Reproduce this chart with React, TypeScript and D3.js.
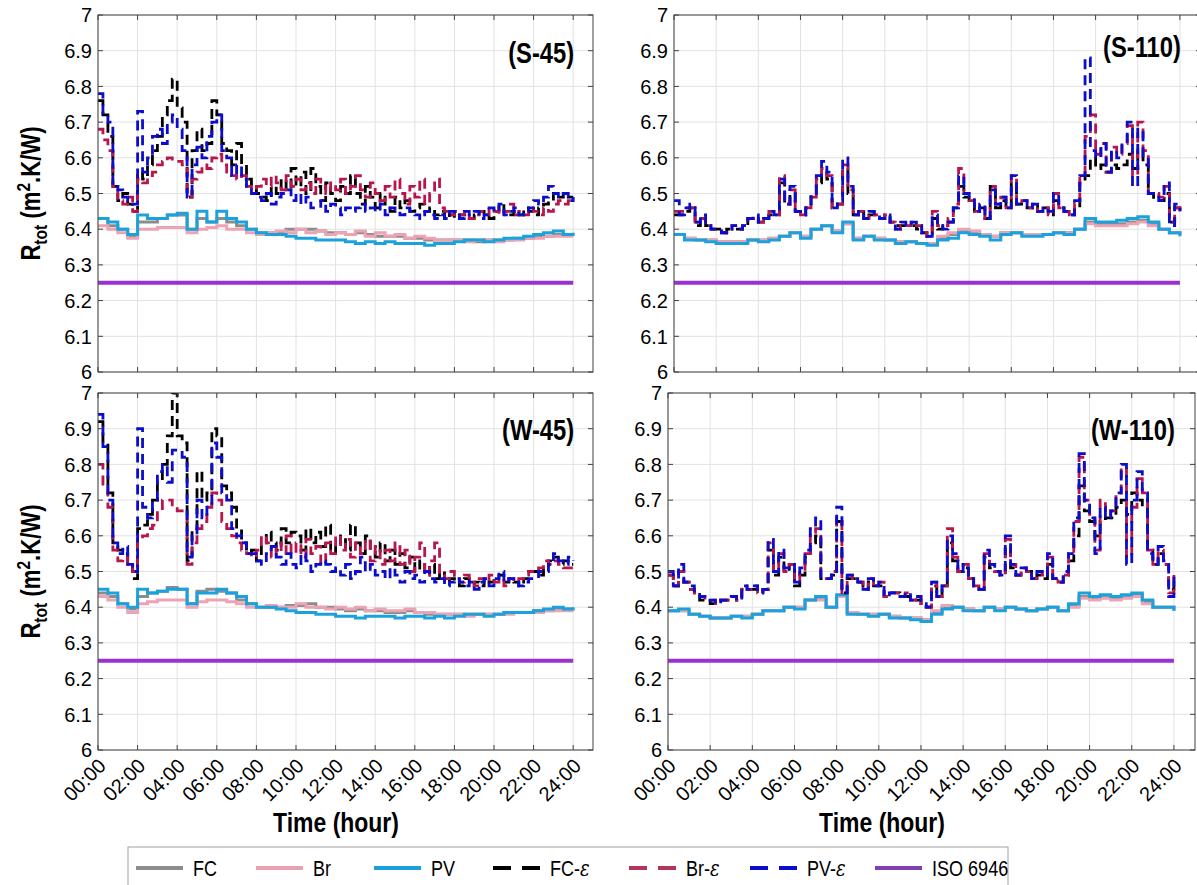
import React from 'react';
import * as d3 from 'd3';

// time axis
const hourTicks = [0, 2, 4, 6, 8, 10, 12, 14, 16, 18, 20, 22, 24];
const hourLabels = ['00:00', '02:00', '04:00', '06:00', '08:00', '10:00', '12:00', '14:00', '16:00', '18:00', '20:00', '22:00', '24:00'];
const rTicks = [6, 6.1, 6.2, 6.3, 6.4, 6.5, 6.6, 6.7, 6.8, 6.9, 7];
const isoLimit = 6.25;

const legendLabels = ['FC', 'Br', 'PV', 'FC-', 'Br-', 'PV-', 'ISO 6946'];

// ---- S-45 (half-hourly solid, quarter-hourly dashed)
const s45FC = [
  6.43, 6.41, 6.40, 6.38, 6.42, 6.42, 6.43, 6.44,
  6.44, 6.40, 6.43, 6.42, 6.43, 6.42, 6.41, 6.40,
  6.39, 6.39, 6.39, 6.40, 6.40, 6.40, 6.395, 6.39,
  6.39, 6.385, 6.39, 6.385, 6.38, 6.38, 6.38, 6.375,
  6.375, 6.37, 6.37, 6.37, 6.37, 6.37, 6.365, 6.37,
  6.37, 6.37, 6.375, 6.375, 6.38, 6.38, 6.385, 6.385,
  6.385];
const s45Br = [
  6.41, 6.40, 6.39, 6.375, 6.40, 6.40, 6.405, 6.405,
  6.405, 6.39, 6.40, 6.405, 6.41, 6.40, 6.40, 6.39,
  6.385, 6.39, 6.395, 6.39, 6.40, 6.39, 6.395, 6.385,
  6.39, 6.385, 6.395, 6.38, 6.39, 6.38, 6.385, 6.375,
  6.38, 6.375, 6.37, 6.37, 6.37, 6.365, 6.37, 6.37,
  6.365, 6.37, 6.37, 6.375, 6.375, 6.38, 6.38, 6.38,
  6.38];
const s45PV = [
  6.43, 6.42, 6.40, 6.385, 6.44, 6.43, 6.43, 6.44,
  6.445, 6.40, 6.45, 6.42, 6.45, 6.43, 6.42, 6.40,
  6.39, 6.385, 6.385, 6.38, 6.375, 6.375, 6.37, 6.37,
  6.37, 6.365, 6.36, 6.365, 6.36, 6.365, 6.36, 6.36,
  6.36, 6.355, 6.36, 6.36, 6.365, 6.37, 6.37, 6.365,
  6.37, 6.375, 6.375, 6.38, 6.385, 6.39, 6.395, 6.385,
  6.39];
const s45FCe = [
  6.76, 6.72, 6.66, 6.52, 6.48, 6.50, 6.47, 6.45,
  6.56, 6.54, 6.58, 6.62, 6.66, 6.72, 6.76, 6.82,
  6.74, 6.70, 6.49, 6.62, 6.68, 6.62, 6.64, 6.76,
  6.72, 6.64, 6.62, 6.58, 6.64, 6.58, 6.54, 6.52,
  6.50, 6.49, 6.48, 6.52, 6.50, 6.54, 6.51, 6.57,
  6.52, 6.56, 6.50, 6.57, 6.52, 6.48, 6.53, 6.50,
  6.48, 6.52, 6.50, 6.55, 6.50, 6.47, 6.52, 6.49,
  6.46, 6.50, 6.47, 6.45, 6.49, 6.46, 6.48, 6.45,
  6.46, 6.47, 6.45, 6.46, 6.44, 6.45, 6.43, 6.44,
  6.43, 6.44, 6.44, 6.43, 6.44, 6.45, 6.44, 6.43,
  6.45, 6.47, 6.45, 6.44, 6.45, 6.44, 6.46, 6.45,
  6.44, 6.46, 6.47, 6.48, 6.50, 6.49, 6.50, 6.49,
  6.49];
const s45Bre = [
  6.68, 6.65, 6.62, 6.52, 6.48, 6.47, 6.49, 6.45,
  6.54, 6.53, 6.55, 6.56, 6.58, 6.59, 6.60, 6.59,
  6.59, 6.58, 6.49, 6.54, 6.56, 6.58, 6.57, 6.60,
  6.61, 6.58, 6.56, 6.55, 6.54, 6.55, 6.52, 6.51,
  6.52, 6.54, 6.52, 6.55, 6.53, 6.51, 6.55, 6.52,
  6.54, 6.51, 6.53, 6.50, 6.54, 6.52, 6.50, 6.53,
  6.51, 6.54, 6.50, 6.52, 6.55, 6.51, 6.49, 6.53,
  6.50, 6.48, 6.52, 6.49, 6.54, 6.50, 6.47, 6.52,
  6.49, 6.54, 6.47, 6.50, 6.54, 6.46, 6.45, 6.44,
  6.45, 6.44, 6.45, 6.43, 6.44, 6.45, 6.44, 6.46,
  6.45, 6.44, 6.45, 6.47, 6.44, 6.45, 6.44, 6.46,
  6.45, 6.44, 6.46, 6.45, 6.47, 6.48, 6.47, 6.48,
  6.48];
const s45PVe = [
  6.78, 6.72, 6.70, 6.52, 6.51, 6.49, 6.48, 6.47,
  6.73, 6.56, 6.60, 6.66, 6.68, 6.64, 6.70, 6.72,
  6.68, 6.62, 6.49, 6.58, 6.63, 6.60, 6.66, 6.70,
  6.72, 6.62, 6.60, 6.55, 6.58, 6.54, 6.52, 6.50,
  6.49, 6.48, 6.50, 6.47, 6.49, 6.50, 6.51, 6.48,
  6.50, 6.47, 6.49, 6.46, 6.46, 6.48, 6.45, 6.47,
  6.46, 6.44, 6.46, 6.45, 6.46, 6.47, 6.45, 6.46,
  6.45, 6.47, 6.44, 6.46, 6.45, 6.44, 6.46, 6.45,
  6.44, 6.43, 6.45, 6.44, 6.43, 6.44, 6.43, 6.45,
  6.44, 6.43, 6.45, 6.44, 6.45, 6.43, 6.44, 6.46,
  6.45, 6.47, 6.44, 6.45, 6.46, 6.44, 6.45, 6.46,
  6.48, 6.47, 6.49, 6.52, 6.50, 6.49, 6.50, 6.48,
  6.49];

// ---- S-110
const s110FC = [
  6.385, 6.375, 6.37, 6.37, 6.365, 6.365, 6.365, 6.37,
  6.37, 6.375, 6.38, 6.39, 6.38, 6.40, 6.41, 6.395,
  6.415, 6.375, 6.38, 6.375, 6.37, 6.365, 6.365, 6.36,
  6.36, 6.375, 6.385, 6.395, 6.39, 6.385, 6.38, 6.39,
  6.39, 6.385, 6.385, 6.385, 6.39, 6.39, 6.40, 6.42,
  6.415, 6.415, 6.415, 6.42, 6.425, 6.415, 6.40, 6.39,
  6.385];
const s110Br = [
  6.385, 6.375, 6.37, 6.37, 6.365, 6.365, 6.365, 6.37,
  6.37, 6.375, 6.38, 6.39, 6.38, 6.40, 6.41, 6.395,
  6.415, 6.375, 6.38, 6.375, 6.37, 6.365, 6.365, 6.36,
  6.36, 6.38, 6.39, 6.40, 6.395, 6.385, 6.38, 6.39,
  6.39, 6.385, 6.385, 6.385, 6.39, 6.39, 6.40, 6.415,
  6.41, 6.41, 6.41, 6.415, 6.42, 6.41, 6.40, 6.39,
  6.385];
const s110PV = [
  6.385, 6.37, 6.37, 6.365, 6.36, 6.36, 6.36, 6.37,
  6.365, 6.37, 6.38, 6.39, 6.375, 6.40, 6.41, 6.39,
  6.42, 6.37, 6.38, 6.37, 6.37, 6.36, 6.365, 6.36,
  6.355, 6.37, 6.375, 6.39, 6.385, 6.38, 6.37, 6.385,
  6.39, 6.38, 6.38, 6.385, 6.39, 6.385, 6.40, 6.43,
  6.42, 6.42, 6.425, 6.43, 6.435, 6.42, 6.40, 6.39,
  6.38];
const s110FCe = [
  6.44, 6.44, 6.45, 6.46, 6.41, 6.43, 6.41, 6.40,
  6.40, 6.39, 6.40, 6.40, 6.40, 6.41, 6.43, 6.43,
  6.42, 6.43, 6.44, 6.44, 6.53, 6.47, 6.50, 6.45,
  6.44, 6.46, 6.49, 6.53, 6.56, 6.54, 6.46, 6.47,
  6.57, 6.50, 6.44, 6.45, 6.43, 6.44, 6.44, 6.43,
  6.44, 6.42, 6.41, 6.41, 6.41, 6.41, 6.40, 6.39,
  6.38, 6.43, 6.40, 6.41, 6.42, 6.46, 6.52, 6.49,
  6.48, 6.45, 6.46, 6.43, 6.52, 6.46, 6.48, 6.46,
  6.53, 6.47, 6.47, 6.46, 6.47, 6.45, 6.46, 6.44,
  6.48, 6.46, 6.45, 6.44, 6.46, 6.53, 6.55, 6.60,
  6.57, 6.58, 6.56, 6.58, 6.57, 6.58, 6.61, 6.57,
  6.62, 6.58, 6.50, 6.48, 6.48, 6.50, 6.42, 6.46,
  6.45];
const s110Bre = [
  6.45, 6.45, 6.46, 6.46, 6.42, 6.43, 6.41, 6.40,
  6.40, 6.39, 6.40, 6.41, 6.40, 6.41, 6.43, 6.43,
  6.42, 6.43, 6.45, 6.44, 6.55, 6.47, 6.51, 6.45,
  6.44, 6.46, 6.49, 6.54, 6.57, 6.55, 6.46, 6.47,
  6.58, 6.51, 6.44, 6.45, 6.43, 6.45, 6.44, 6.43,
  6.44, 6.42, 6.40, 6.41, 6.41, 6.42, 6.41, 6.39,
  6.38, 6.45, 6.41, 6.41, 6.43, 6.47, 6.57, 6.50,
  6.48, 6.45, 6.46, 6.43, 6.52, 6.47, 6.49, 6.46,
  6.55, 6.47, 6.48, 6.46, 6.47, 6.45, 6.46, 6.44,
  6.50, 6.46, 6.45, 6.44, 6.47, 6.55, 6.66, 6.72,
  6.61, 6.64, 6.56, 6.63, 6.61, 6.64, 6.69, 6.55,
  6.70, 6.62, 6.50, 6.50, 6.49, 6.52, 6.42, 6.46,
  6.45];
const s110PVe = [
  6.48, 6.44, 6.46, 6.47, 6.42, 6.44, 6.41, 6.40,
  6.40, 6.39, 6.40, 6.41, 6.40, 6.41, 6.43, 6.44,
  6.42, 6.43, 6.45, 6.44, 6.54, 6.47, 6.52, 6.45,
  6.44, 6.46, 6.50, 6.55, 6.59, 6.56, 6.46, 6.48,
  6.60, 6.52, 6.44, 6.45, 6.43, 6.45, 6.44, 6.43,
  6.44, 6.42, 6.40, 6.42, 6.41, 6.42, 6.41, 6.39,
  6.38, 6.44, 6.41, 6.40, 6.42, 6.46, 6.55, 6.50,
  6.49, 6.45, 6.47, 6.43, 6.51, 6.47, 6.49, 6.46,
  6.55, 6.47, 6.48, 6.46, 6.47, 6.45, 6.46, 6.45,
  6.50, 6.46, 6.45, 6.44, 6.48, 6.55, 6.88, 6.62,
  6.60, 6.64, 6.56, 6.62, 6.60, 6.64, 6.70, 6.52,
  6.68, 6.60, 6.50, 6.49, 6.48, 6.53, 6.41, 6.47,
  6.45];

// ---- W-45
const w45FC = [
  6.44, 6.43, 6.41, 6.395, 6.43, 6.44, 6.445, 6.455,
  6.45, 6.41, 6.445, 6.45, 6.445, 6.44, 6.42, 6.41,
  6.40, 6.40, 6.40, 6.405, 6.405, 6.41, 6.40, 6.40,
  6.395, 6.39, 6.395, 6.39, 6.39, 6.385, 6.385, 6.39,
  6.385, 6.38, 6.38, 6.38, 6.38, 6.38, 6.38, 6.38,
  6.38, 6.385, 6.385, 6.385, 6.39, 6.39, 6.395, 6.395,
  6.395];
const w45Br = [
  6.43, 6.42, 6.40, 6.385, 6.41, 6.415, 6.42, 6.42,
  6.42, 6.40, 6.415, 6.42, 6.42, 6.415, 6.41, 6.40,
  6.40, 6.405, 6.40, 6.40, 6.41, 6.40, 6.40, 6.395,
  6.40, 6.395, 6.40, 6.39, 6.395, 6.39, 6.39, 6.395,
  6.385, 6.385, 6.38, 6.38, 6.38, 6.375, 6.38, 6.38,
  6.38, 6.38, 6.385, 6.385, 6.385, 6.39, 6.39, 6.39,
  6.39];
const w45PV = [
  6.45, 6.44, 6.41, 6.40, 6.45, 6.44, 6.445, 6.45,
  6.45, 6.41, 6.44, 6.44, 6.45, 6.44, 6.43, 6.41,
  6.40, 6.40, 6.395, 6.39, 6.385, 6.385, 6.38, 6.38,
  6.375, 6.375, 6.37, 6.375, 6.375, 6.375, 6.37, 6.375,
  6.375, 6.37, 6.375, 6.37, 6.375, 6.38, 6.38, 6.375,
  6.38, 6.385, 6.385, 6.385, 6.39, 6.395, 6.40, 6.395,
  6.40];
const w45FCe = [
  6.92, 6.86, 6.72, 6.58, 6.56, 6.55, 6.53, 6.48,
  6.62, 6.63, 6.66, 6.70, 6.75, 6.80, 6.88, 7.00,
  6.88, 6.86, 6.53, 6.62, 6.78, 6.70, 6.72, 6.90,
  6.88, 6.74, 6.72, 6.68, 6.62, 6.58, 6.55, 6.56,
  6.53, 6.58, 6.61, 6.58, 6.56, 6.62, 6.58, 6.61,
  6.60, 6.56, 6.62, 6.58, 6.61, 6.57, 6.63, 6.55,
  6.58, 6.60, 6.56, 6.63, 6.58, 6.55, 6.60, 6.56,
  6.54, 6.58, 6.53, 6.56, 6.52, 6.55, 6.51, 6.54,
  6.50, 6.53, 6.49, 6.52, 6.48, 6.50, 6.47, 6.48,
  6.47, 6.46, 6.48, 6.46, 6.47, 6.46, 6.48, 6.47,
  6.48, 6.49, 6.47, 6.48, 6.47, 6.46, 6.48, 6.50,
  6.50, 6.49, 6.51, 6.53, 6.54, 6.52, 6.53, 6.52,
  6.52];
const w45Bre = [
  6.80, 6.74, 6.68, 6.56, 6.53, 6.54, 6.52, 6.50,
  6.59, 6.60, 6.62, 6.63, 6.67, 6.70, 6.70, 6.68,
  6.67, 6.66, 6.52, 6.58, 6.62, 6.64, 6.68, 6.72,
  6.70, 6.64, 6.62, 6.60, 6.58, 6.56, 6.55, 6.54,
  6.56, 6.60, 6.58, 6.54, 6.58, 6.55, 6.60, 6.55,
  6.58, 6.54, 6.59, 6.55, 6.57, 6.52, 6.58, 6.55,
  6.60, 6.56, 6.59, 6.54, 6.58, 6.55, 6.59, 6.53,
  6.57, 6.52, 6.56, 6.53, 6.58, 6.52, 6.56, 6.50,
  6.54, 6.58, 6.49, 6.53, 6.58, 6.49, 6.48, 6.50,
  6.48, 6.47, 6.49, 6.47, 6.46, 6.48, 6.47, 6.49,
  6.47, 6.48, 6.46, 6.48, 6.47, 6.48, 6.49, 6.50,
  6.50, 6.51, 6.53, 6.52, 6.53, 6.52, 6.51, 6.51,
  6.51];
const w45PVe = [
  6.94, 6.85, 6.70, 6.58, 6.55, 6.57, 6.52, 6.50,
  6.90, 6.68, 6.65, 6.70, 6.78, 6.80, 6.75, 6.84,
  6.84, 6.82, 6.54, 6.60, 6.70, 6.65, 6.68, 6.86,
  6.82, 6.72, 6.70, 6.62, 6.60, 6.58, 6.55, 6.55,
  6.53, 6.52, 6.55, 6.57, 6.54, 6.52, 6.55, 6.52,
  6.51, 6.55, 6.53, 6.50, 6.52, 6.53, 6.52, 6.50,
  6.51, 6.49, 6.52, 6.48, 6.50, 6.54, 6.50, 6.52,
  6.49, 6.50, 6.48, 6.51, 6.49, 6.47, 6.50, 6.48,
  6.49, 6.47, 6.50, 6.48, 6.47, 6.48, 6.46, 6.47,
  6.48, 6.47, 6.46, 6.47, 6.45, 6.47, 6.48, 6.46,
  6.48, 6.50, 6.47, 6.48, 6.47, 6.46, 6.47, 6.48,
  6.48, 6.50, 6.50, 6.52, 6.55, 6.53, 6.52, 6.54,
  6.53];

// ---- W-110
const w110FC = [
  6.39, 6.39, 6.38, 6.375, 6.37, 6.37, 6.375, 6.375,
  6.38, 6.39, 6.39, 6.40, 6.40, 6.42, 6.425, 6.40,
  6.43, 6.385, 6.38, 6.38, 6.38, 6.375, 6.37, 6.37,
  6.365, 6.385, 6.40, 6.40, 6.395, 6.39, 6.40, 6.395,
  6.40, 6.395, 6.39, 6.395, 6.40, 6.39, 6.405, 6.43,
  6.425, 6.43, 6.425, 6.43, 6.435, 6.415, 6.40, 6.40,
  6.39];
const w110Br = [
  6.39, 6.39, 6.38, 6.375, 6.37, 6.37, 6.375, 6.375,
  6.38, 6.39, 6.39, 6.40, 6.40, 6.42, 6.42, 6.40,
  6.43, 6.385, 6.38, 6.38, 6.38, 6.375, 6.37, 6.37,
  6.365, 6.39, 6.405, 6.40, 6.395, 6.39, 6.40, 6.395,
  6.40, 6.395, 6.39, 6.395, 6.40, 6.39, 6.40, 6.425,
  6.42, 6.425, 6.42, 6.425, 6.43, 6.41, 6.40, 6.40,
  6.39];
const w110PV = [
  6.39, 6.395, 6.38, 6.375, 6.37, 6.37, 6.375, 6.37,
  6.38, 6.39, 6.39, 6.40, 6.395, 6.42, 6.43, 6.40,
  6.435, 6.38, 6.38, 6.375, 6.38, 6.37, 6.37, 6.365,
  6.36, 6.38, 6.395, 6.40, 6.39, 6.39, 6.40, 6.39,
  6.40, 6.395, 6.39, 6.395, 6.40, 6.39, 6.41, 6.44,
  6.43, 6.435, 6.43, 6.435, 6.44, 6.42, 6.40, 6.40,
  6.39];
const w110FCe = [
  6.49, 6.46, 6.50, 6.47, 6.45, 6.43, 6.42, 6.42,
  6.41, 6.41, 6.42, 6.42, 6.43, 6.42, 6.45, 6.45,
  6.45, 6.44, 6.45, 6.56, 6.49, 6.54, 6.50, 6.52,
  6.46, 6.49, 6.54, 6.58, 6.60, 6.48, 6.48, 6.49,
  6.64, 6.44, 6.48, 6.48, 6.47, 6.45, 6.47, 6.46,
  6.46, 6.43, 6.44, 6.44, 6.43, 6.43, 6.42, 6.42,
  6.41, 6.40, 6.46, 6.43, 6.46, 6.58, 6.53, 6.50,
  6.51, 6.48, 6.46, 6.45, 6.54, 6.51, 6.50, 6.49,
  6.57, 6.51, 6.49, 6.50, 6.50, 6.48, 6.49, 6.48,
  6.52, 6.48, 6.47, 6.49, 6.53, 6.60, 6.74, 6.67,
  6.64, 6.60, 6.64, 6.65, 6.65, 6.68, 6.70, 6.66,
  6.72, 6.70, 6.68, 6.56, 6.52, 6.55, 6.52, 6.45,
  6.48];
const w110Bre = [
  6.49, 6.46, 6.50, 6.47, 6.45, 6.44, 6.43, 6.42,
  6.42, 6.41, 6.42, 6.42, 6.43, 6.42, 6.46, 6.45,
  6.46, 6.44, 6.45, 6.58, 6.50, 6.55, 6.50, 6.52,
  6.47, 6.50, 6.55, 6.61, 6.62, 6.48, 6.48, 6.50,
  6.65, 6.44, 6.49, 6.48, 6.47, 6.45, 6.48, 6.46,
  6.47, 6.43, 6.44, 6.44, 6.43, 6.44, 6.42, 6.43,
  6.41, 6.40, 6.47, 6.43, 6.46, 6.62, 6.54, 6.50,
  6.52, 6.48, 6.46, 6.45, 6.55, 6.52, 6.50, 6.49,
  6.59, 6.52, 6.49, 6.51, 6.50, 6.48, 6.50, 6.49,
  6.54, 6.48, 6.47, 6.49, 6.55, 6.64, 6.82, 6.70,
  6.66, 6.56, 6.70, 6.66, 6.67, 6.71, 6.79, 6.54,
  6.68, 6.76, 6.72, 6.56, 6.52, 6.56, 6.52, 6.44,
  6.49];
const w110PVe = [
  6.50, 6.46, 6.52, 6.47, 6.46, 6.44, 6.43, 6.42,
  6.42, 6.41, 6.42, 6.42, 6.43, 6.42, 6.46, 6.45,
  6.46, 6.44, 6.45, 6.59, 6.50, 6.56, 6.51, 6.52,
  6.47, 6.51, 6.56, 6.62, 6.65, 6.48, 6.48, 6.50,
  6.68, 6.44, 6.49, 6.48, 6.47, 6.45, 6.48, 6.46,
  6.47, 6.43, 6.44, 6.44, 6.43, 6.44, 6.42, 6.43,
  6.41, 6.40, 6.47, 6.43, 6.46, 6.60, 6.55, 6.50,
  6.52, 6.48, 6.46, 6.45, 6.56, 6.52, 6.50, 6.49,
  6.60, 6.52, 6.49, 6.51, 6.50, 6.48, 6.50, 6.49,
  6.55, 6.48, 6.47, 6.50, 6.55, 6.65, 6.83, 6.70,
  6.65, 6.55, 6.68, 6.65, 6.67, 6.72, 6.80, 6.52,
  6.70, 6.78, 6.72, 6.55, 6.52, 6.57, 6.53, 6.43,
  6.50];

const seriesStyle = [
  { color: '#8c8c8c', dash: null },
  { color: '#eca3b3', dash: null },
  { color: '#1ba2dd', dash: null },
  { color: '#000000', dash: '10,6' },
  { color: '#b9154d', dash: '10,6' },
  { color: '#0c0ccc', dash: '10,6' },
];
const isoColor = '#9b30d2';

const panels = [
  { id: 's45', name: '(S-45)', left: 98, right: 593, top: 15, bottom: 372, labelDy: 48, xLabels: false, yTitle: true,
    titleX: 336, series: [s45FC, s45Br, s45PV, s45FCe, s45Bre, s45PVe] },
  { id: 's110', name: '(S-110)', left: 674, right: 1201, top: 15, bottom: 372, labelDy: 42, xLabels: false, yTitle: false,
    titleX: 882, series: [s110FC, s110Br, s110PV, s110FCe, s110Bre, s110PVe] },
  { id: 'w45', name: '(W-45)', left: 98, right: 593, top: 393, bottom: 750, labelDy: 47, xLabels: true, yTitle: true,
    titleX: 336, series: [w45FC, w45Br, w45PV, w45FCe, w45Bre, w45PVe] },
  { id: 'w110', name: '(W-110)', left: 668, right: 1195, top: 393, bottom: 750, labelDy: 47, xLabels: true, yTitle: false,
    titleX: 882, series: [w110FC, w110Br, w110PV, w110FCe, w110Bre, w110PVe] },
];

const FONT = '"Liberation Sans", Arial, sans-serif';
const SQUEEZE = 0.82; // narrow look of the bold labels

function Panel({ p }) {
  const x = d3.scaleLinear().domain([0, 25]).range([p.left, p.right]);
  const y = d3.scaleLinear().domain([6, 7]).range([p.bottom, p.top]);
  const line = d3.line<number>()
    .x((_, i, arr) => x((i * 24) / (arr.length - 1)))
    .y((d) => y(d))
    .curve(d3.curveStepAfter);
  const tick = 5;
  const axisColor = '#404040';

  return (
    <g>
      <defs>
        <clipPath id={`clip-${p.id}`}>
          <rect x={p.left} y={p.top} width={p.right - p.left} height={p.bottom - p.top} />
        </clipPath>
      </defs>
      <rect x={p.left} y={p.top} width={p.right - p.left} height={p.bottom - p.top} fill="#fff" />
      {hourTicks.map((t) => (
        <line key={`gx${t}`} x1={x(t)} x2={x(t)} y1={p.top} y2={p.bottom} stroke="#e2e2e2" strokeWidth={1} />
      ))}
      {rTicks.map((v) => (
        <line key={`gy${v}`} x1={p.left} x2={p.right} y1={y(v)} y2={y(v)} stroke="#e2e2e2" strokeWidth={1} />
      ))}
      <g clipPath={`url(#clip-${p.id})`}>
        {p.series.map((s, i) => (
          <path key={i} d={line(s) || ''} fill="none" stroke={seriesStyle[i].color}
            strokeWidth={i < 3 ? 3 : 2.8} strokeDasharray={seriesStyle[i].dash || undefined} />
        ))}
        <line x1={x(0)} x2={x(24)} y1={y(isoLimit)} y2={y(isoLimit)} stroke={isoColor} strokeWidth={4} />
      </g>
      <rect x={p.left} y={p.top} width={p.right - p.left} height={p.bottom - p.top} fill="none" stroke={axisColor} strokeWidth={1} />
      {hourTicks.map((t) => (
        <g key={`tx${t}`} stroke={axisColor}>
          <line x1={x(t)} x2={x(t)} y1={p.bottom} y2={p.bottom - tick} />
          <line x1={x(t)} x2={x(t)} y1={p.top} y2={p.top + tick} />
        </g>
      ))}
      {rTicks.map((v) => (
        <g key={`ty${v}`} stroke={axisColor}>
          <line x1={p.left} x2={p.left + tick} y1={y(v)} y2={y(v)} />
          <line x1={p.right} x2={p.right - tick} y1={y(v)} y2={y(v)} />
        </g>
      ))}
      {rTicks.map((v) => (
        <text key={`ly${v}`} x={p.left - 6} y={y(v)} dy="0.36em" textAnchor="end"
          fontFamily={FONT} fontSize={20} fill="#000">{d3.format('~g')(v)}</text>
      ))}
      {p.xLabels && hourTicks.map((t, i) => (
        <text key={`lx${t}`} transform={`translate(${x(t) + 4},${p.bottom + 12}) rotate(-45)`}
          dy="0.36em" textAnchor="end" fontFamily={FONT} fontSize={20} fill="#000">{hourLabels[i]}</text>
      ))}
      {p.xLabels && (
        <text transform={`translate(${p.titleX},${p.bottom + 82}) scale(${SQUEEZE},1)`} textAnchor="middle"
          fontFamily={FONT} fontWeight="bold" fontSize={28} fill="#000">Time (hour)</text>
      )}
      {p.yTitle && (
        <text transform={`translate(40,${(p.top + p.bottom) / 2}) rotate(-90) scale(${SQUEEZE},1)`} textAnchor="middle"
          fontFamily={FONT} fontWeight="bold" fontSize={27} fill="#000">
          R<tspan fontSize={19} dy={7}>tot</tspan><tspan dy={-7}> (m</tspan>
          <tspan fontSize={19} dy={-10}>2</tspan><tspan dy={10}>.K/W)</tspan>
        </text>
      )}
      <text transform={`translate(${x(24) + 1},${p.top + p.labelDy}) scale(${SQUEEZE},1)`} textAnchor="end"
        fontFamily={FONT} fontWeight="bold" fontSize={29} fill="#000">{p.name}</text>
    </g>
  );
}

const legendX = [136, 256, 374, 493, 629, 750, 875];
const legendStyles = [
  { color: '#8c8c8c', dash: null, eps: false },
  { color: '#e9a0b0', dash: null, eps: false },
  { color: '#1a9fe0', dash: null, eps: false },
  { color: '#000000', dash: '18,11', eps: true },
  { color: '#b4355a', dash: '18,11', eps: true },
  { color: '#0c0ccc', dash: '18,11', eps: true },
  { color: '#7e3fb0', dash: null, eps: false },
];

function Legend() {
  const cy = 868;
  return (
    <g>
      <rect x={128} y={847} width={880} height={45} fill="#fff" stroke="#a0a0a0" strokeWidth={1} />
      {legendLabels.map((lab, i) => (
        <g key={lab}>
          <line x1={legendX[i]} x2={legendX[i] + 47} y1={cy} y2={cy} stroke={legendStyles[i].color}
            strokeWidth={4} strokeDasharray={legendStyles[i].dash || undefined} />
          <text transform={`translate(${legendX[i] + 57},${cy}) scale(${SQUEEZE},1)`} dy="0.36em"
            fontFamily={FONT} fontSize={22} fill="#000">
            {lab}{legendStyles[i].eps && <tspan fontStyle="italic" fontFamily='"DejaVu Serif", serif'>{'\u03b5'}</tspan>}
          </text>
        </g>
      ))}
    </g>
  );
}

export default function App() {
  return (
    <svg width={1197} height={885} style={{ position: 'absolute', left: 0, top: 0, background: '#fff' }}>
      <rect width={1197} height={885} fill="#fff" />
      {panels.map((p) => <Panel key={p.id} p={p} />)}
      <Legend />
    </svg>
  );
}
